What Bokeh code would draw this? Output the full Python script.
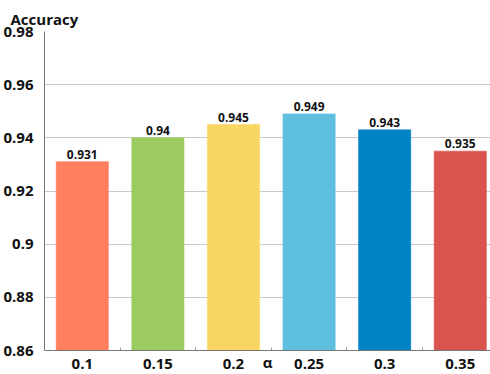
from bokeh.plotting import figure
from bokeh.models import ColumnDataSource, Range1d, FixedTicker
from bokeh.embed import file_html
from bokeh.resources import INLINE
from bokeh.core.properties import value

alphas = ["0.1", "0.15", "0.2", "0.25", "0.3", "0.35"]
accuracy = [0.931, 0.94, 0.945, 0.949, 0.943, 0.935]
colors = ["#FF7F5E", "#9CCB62", "#F9D662", "#5FBFDF", "#0083C5", "#D9534F"]
y_ticks = [0.86, 0.88, 0.90, 0.92, 0.94, 0.96, 0.98]
y_tick_labels = ["0.86", "0.88", "0.9", "0.92", "0.94", "0.96", "0.98"]
x_title = "α"

pos = [i + 0.5 for i in range(len(alphas))]
src = ColumnDataSource(dict(x=pos, top=accuracy, color=colors,
                            label=[str(a) for a in accuracy]))

FONT = "Open Sans"
p = figure(width=490, height=374, output_backend="svg", toolbar_location=None,
           x_range=Range1d(0, 5.9), y_range=Range1d(0.86, 0.98),
           min_border_left=44, min_border_right=0, min_border_top=31,
           min_border_bottom=24, title="Accuracy")
p.outline_line_color = None
p.background_fill_color = "white"
p.border_fill_color = "white"

p.title.text_font = FONT
p.title.text_font_size = "15px"
p.title.text_font_style = "bold"
p.title.text_color = "#111111"
p.title.offset = -34
p.title.standoff = 5

p.vbar(x="x", top="top", bottom=0.86, width=0.69, fill_color="color",
       line_color="color", line_alpha=0.6, source=src)
p.text(x="x", y="top", text="label", source=src, text_align="center",
       text_baseline="bottom", y_offset=-3, text_font=value(FONT),
       text_font_size="12px", text_font_style="bold", text_color="#111111")

# y axis
p.yaxis.ticker = FixedTicker(ticks=y_ticks)
p.yaxis.major_label_overrides = {t: l for t, l in zip(y_ticks, y_tick_labels)}
p.yaxis.major_label_text_font = FONT
p.yaxis.major_label_text_font_size = "15px"
p.yaxis.major_label_text_font_style = "bold"
p.yaxis.major_label_text_color = "#111111"
p.yaxis.major_tick_line_color = None
p.yaxis.minor_tick_line_color = None
p.yaxis.axis_line_color = "#777777"
p.yaxis.major_label_standoff = 5

# x axis
p.xaxis.ticker = FixedTicker(ticks=pos, minor_ticks=[1, 2, 3, 4, 5])
p.xaxis.major_label_overrides = {t: l for t, l in zip(pos, alphas)}
p.xaxis.major_label_text_font = FONT
p.xaxis.major_label_text_font_size = "15px"
p.xaxis.major_label_text_font_style = "bold"
p.xaxis.major_label_text_color = "#111111"
p.xaxis.major_tick_line_color = None
p.xaxis.minor_tick_line_color = "#999999"
p.xaxis.minor_tick_in = 3
p.xaxis.minor_tick_out = 0
p.xaxis.axis_line_color = "#777777"
p.xaxis.major_label_standoff = 2
p.xaxis.axis_label = x_title
p.xaxis.axis_label_text_font = FONT
p.xaxis.axis_label_text_font_size = "15px"
p.xaxis.axis_label_text_font_style = "bold"
p.xaxis.axis_label_text_color = "#111111"
p.xaxis.axis_label_standoff = -20

p.xgrid.grid_line_color = None
p.ygrid.ticker = FixedTicker(ticks=y_ticks)
p.ygrid.grid_line_color = "#C8C8C8"
p.ygrid.grid_line_width = 1

open("out.html", "w").write(file_html(p, INLINE))
